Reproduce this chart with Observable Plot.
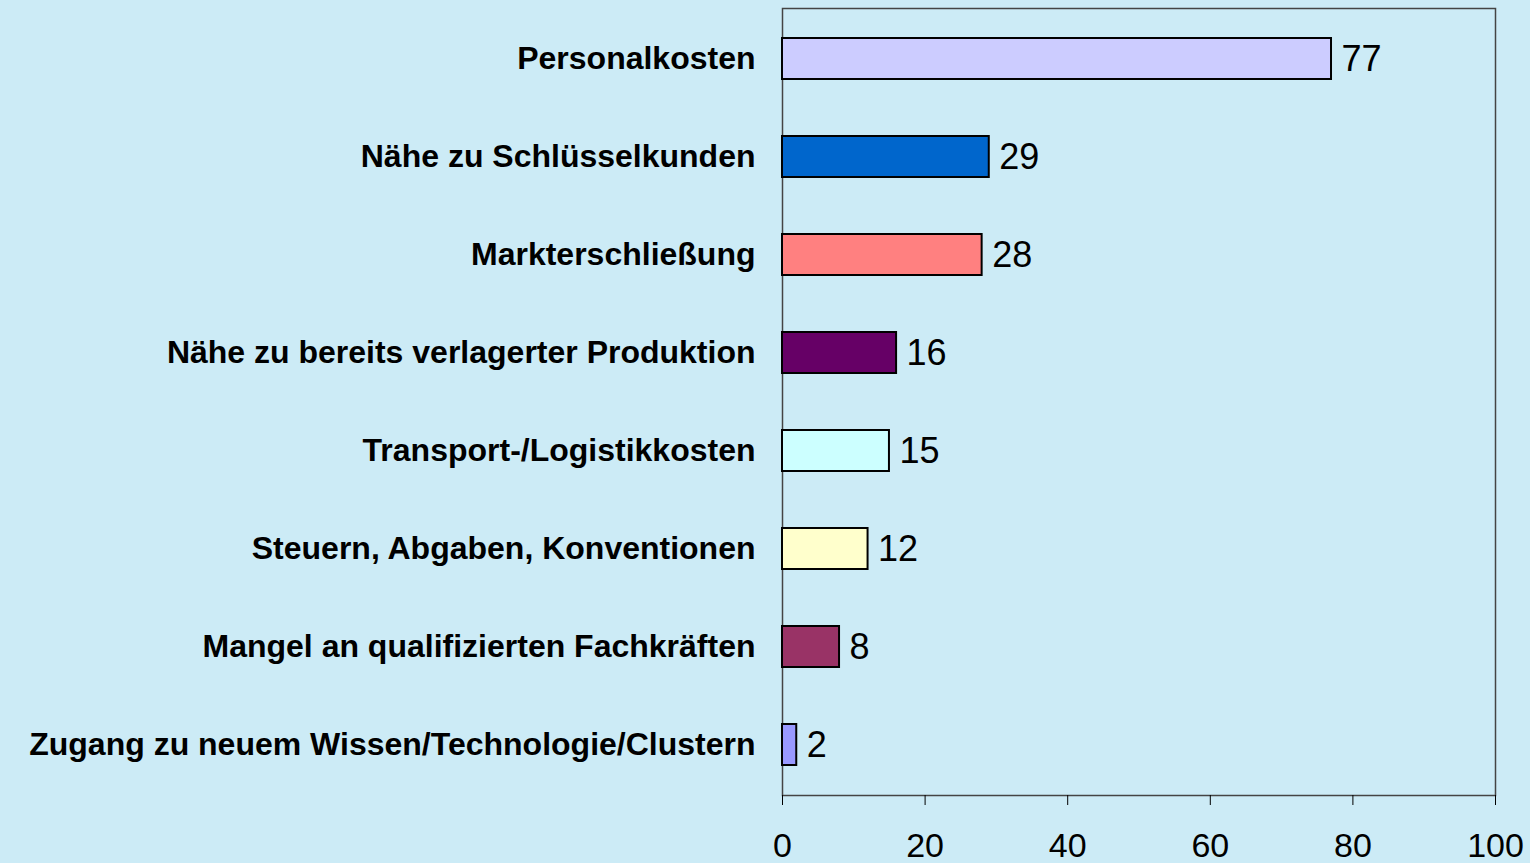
<!DOCTYPE html>
<html>
<head>
<meta charset="utf-8">
<script src="https://cdn.jsdelivr.net/npm/d3@7"></script>
<script src="https://cdn.jsdelivr.net/npm/@observablehq/plot@0.6"></script>
<style>
  html, body { margin: 0; padding: 0; background: #CCEBF6; overflow: hidden; }
  #chart svg { display: block; }
</style>
</head>
<body>
<div id="chart"></div>
<script>
const categories = [
  "Personalkosten",
  "Nähe zu Schlüsselkunden",
  "Markterschließung",
  "Nähe zu bereits verlagerter Produktion",
  "Transport-/Logistikkosten",
  "Steuern, Abgaben, Konventionen",
  "Mangel an qualifizierten Fachkräften",
  "Zugang zu neuem Wissen/Technologie/Clustern"
];
const values = [77, 29, 28, 16, 15, 12, 8, 2];
const colors = ["#CCCCFF", "#0066CC", "#FF8080", "#660066", "#CCFFFF", "#FFFFCC", "#993366", "#9999FF"];
const xTicks = [0, 20, 40, 60, 80, 100];

const data = categories.map((c, i) => ({category: c, value: values[i], color: colors[i]}));

const chart = Plot.plot({
  width: 1530,
  height: 863,
  marginLeft: 782,
  marginRight: 35,
  marginTop: 8,
  marginBottom: 68,
  style: {background: "#CCEBF6", fontFamily: "'Liberation Sans', Arial, Helvetica, sans-serif", color: "#000"},
  x: {domain: [0, 100], ticks: xTicks},
  y: {domain: categories, paddingInner: 0.58, paddingOuter: 0.29},
  marks: [
    Plot.frame({stroke: "#444", strokeWidth: 1.5}),
    Plot.axisX({ticks: xTicks, tickSize: 10, tickPadding: 27, fontSize: 34, label: null, stroke: "#000"}),
    Plot.axisY({tickSize: 0, tickPadding: 27, fontSize: 32, fontWeight: "bold", label: null}),
    Plot.barX(data, {x: "value", y: "category", fill: "color", stroke: "#000", strokeWidth: 2}),
    Plot.text(data, {x: "value", y: "category", text: d => String(d.value), textAnchor: "start", dx: 10, fontSize: 36, fill: "#000"})
  ]
});
document.getElementById("chart").append(chart);
</script>
</body>
</html>
